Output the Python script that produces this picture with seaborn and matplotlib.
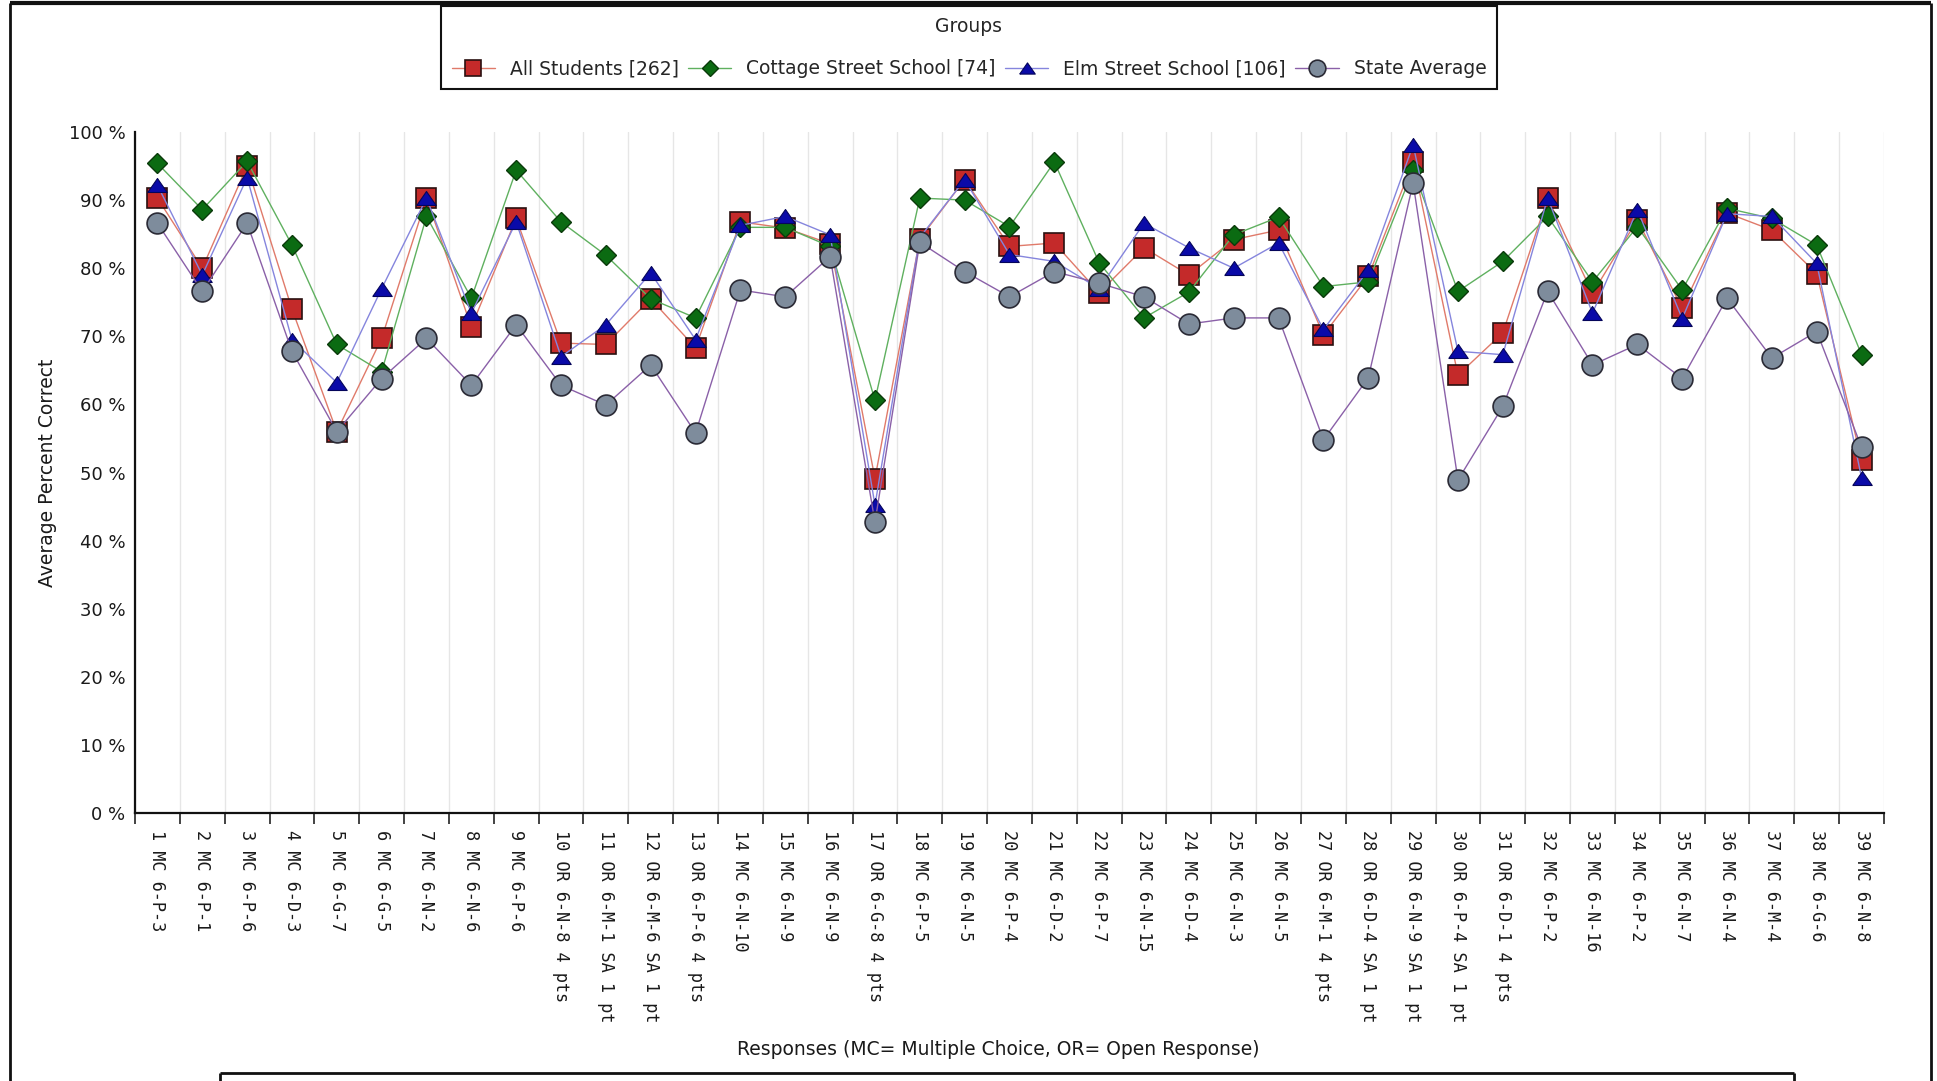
import matplotlib
matplotlib.use("Agg")
import matplotlib.pyplot as plt
from matplotlib.lines import Line2D
import numpy as np
import pandas as pd
import seaborn as sns

# ---- data -------------------------------------------------------------
items = [
    "1 MC 6-P-3", "2 MC 6-P-1", "3 MC 6-P-6", "4 MC 6-D-3", "5 MC 6-G-7",
    "6 MC 6-G-5", "7 MC 6-N-2", "8 MC 6-N-6", "9 MC 6-P-6", "10 OR 6-N-8 4 pts",
    "11 OR 6-M-1 SA 1 pt", "12 OR 6-M-6 SA 1 pt", "13 OR 6-P-6 4 pts",
    "14 MC 6-N-10", "15 MC 6-N-9", "16 MC 6-N-9", "17 OR 6-G-8 4 pts",
    "18 MC 6-P-5", "19 MC 6-N-5", "20 MC 6-P-4", "21 MC 6-D-2", "22 MC 6-P-7",
    "23 MC 6-N-15", "24 MC 6-D-4", "25 MC 6-N-3", "26 MC 6-N-5",
    "27 OR 6-M-1 4 pts", "28 OR 6-D-4 SA 1 pt", "29 OR 6-N-9 SA 1 pt",
    "30 OR 6-P-4 SA 1 pt", "31 OR 6-D-1 4 pts", "32 MC 6-P-2", "33 MC 6-N-16",
    "34 MC 6-P-2", "35 MC 6-N-7", "36 MC 6-N-4", "37 MC 6-M-4", "38 MC 6-G-6",
    "39 MC 6-N-8",
]

all_students = [90.3, 80, 95, 74, 56, 69.7, 90.3, 71.4, 87.3, 69, 68.8, 75.5,
                68.3, 86.8, 85.9, 83.6, 49.1, 84.3, 93, 83.2, 83.7, 76.4, 83,
                79, 84.2, 85.6, 70.2, 78.8, 95.6, 64.3, 70.5, 90.3, 76.3, 87.1,
                74.1, 88.1, 85.6, 79.2, 51.8]
cottage = [95.4, 88.6, 95.7, 83.4, 68.8, 64.8, 87.6, 75.6, 94.4, 86.8, 81.9,
           75.5, 72.7, 86, 86, 83.2, 60.6, 90.3, 90, 86.1, 95.6, 80.8, 72.7,
           76.5, 84.9, 87.5, 77.3, 78, 94.4, 76.6, 81, 87.6, 78, 86.1, 76.8,
           88.8, 87.3, 83.4, 67.3]
elm = [92.2, 79, 93.3, 69.5, 63.2, 77, 90.3, 73.4, 86.8, 67, 71.7, 79.3, 69.5,
       86.3, 87.6, 84.9, 45.2, 84.5, 93, 82, 81, 77, 86.6, 83, 80, 83.7, 71,
       79.7, 98.1, 67.8, 67.3, 90.3, 73.4, 88.6, 72.6, 88, 87.6, 80.7, 49.2]
state = [86.6, 76.6, 86.6, 67.8, 56, 63.8, 69.7, 62.8, 71.7, 62.8, 59.9, 65.8,
         55.8, 76.8, 75.8, 81.7, 42.7, 83.8, 79.5, 75.8, 79.5, 77.8, 75.8,
         71.8, 72.7, 72.7, 54.8, 63.9, 92.5, 48.9, 59.7, 76.6, 65.8, 68.8,
         63.8, 75.6, 66.8, 70.7, 53.7]

group_names = ["All Students [262]", "Cottage Street School [74]",
               "Elm Street School [106]", "State Average"]
y_ticks = [0, 10, 20, 30, 40, 50, 60, 70, 80, 90, 100]

# ---- styling per series ----------------------------------------------
flat_tri = [(-1.0, -0.72), (1.0, -0.72), (0.0, 0.72), (-1.0, -0.72)]
styles = {
    "All Students [262]": dict(color="#e07a6a", marker="s", markersize=15,
                               markerfacecolor="#c42a2a", markeredgecolor="#2a1010",
                               markeredgewidth=1.2),
    "Cottage Street School [74]": dict(color="#5fb05f", marker="D", markersize=10.5,
                                       markerfacecolor="#0b6b12", markeredgecolor="#0a3a0a",
                                       markeredgewidth=1.0),
    "Elm Street School [106]": dict(color="#8585dd", marker=flat_tri, markersize=14,
                                    markerfacecolor="#0a0aa8", markeredgecolor="#05055a",
                                    markeredgewidth=0.8),
    "State Average": dict(color="#8a60a8", marker="o", markersize=15,
                          markerfacecolor="#7e8c9c", markeredgecolor="#2a2a35",
                          markeredgewidth=1.2),
}

df = pd.DataFrame({
    "pos": np.tile(np.arange(len(items)), 4),
    "value": all_students + cottage + elm + state,
    "group": np.repeat(group_names, len(items)),
})

# ---- figure -----------------------------------------------------------
sns.set_theme(style="white")
plt.rcParams["font.family"] = ["DejaVu Sans"]
W, H = 1937, 1081
fig = plt.figure(figsize=(W / 100, H / 100), dpi=100)
fig.patch.set_facecolor("white")
ax = fig.add_axes([135 / W, 1 - 813 / H, (1884 - 135) / W, (813 - 132) / H])

for name in group_names:
    sub = df[df["group"] == name]
    sns.lineplot(data=sub, x="pos", y="value", ax=ax, label=name,
                 linewidth=1.0, clip_on=False, zorder=3, **styles[name])

# axes limits and ticks
n = len(items)
ax.set_xlim(-0.5, n - 0.5)
ax.set_ylim(0, 100)
ax.set_yticks(y_ticks)
ax.set_yticklabels([f"{v} %" for v in y_ticks])
ax.tick_params(axis="y", length=0, pad=7, labelsize=13, labelcolor="#1a1a1a")

ax.set_xticks(np.arange(n))
ax.set_xticklabels(items, rotation=270, va="top", ha="center",
                   family="DejaVu Sans Mono")
ax.tick_params(axis="x", which="major", length=0, pad=12, labelsize=12.2,
               labelcolor="#1a1a1a")
ax.set_xticks(np.arange(-0.5, n), minor=True)
ax.tick_params(axis="x", which="minor", length=8, width=1.2, color="#222222",
               direction="out", bottom=True)

# vertical separators between response items
ax.grid(False)
ax.xaxis.grid(True, which="minor", color="#e6e6e6", linewidth=1.0)
ax.set_axisbelow(True)

for side in ("top", "right"):
    ax.spines[side].set_visible(False)
for side in ("left", "bottom"):
    ax.spines[side].set_color("#111111")
    ax.spines[side].set_linewidth(1.6)

ax.set_ylabel("Average Percent Correct", fontsize=13.5, color="#1a1a1a")
ax.yaxis.set_label_coords((57 - 135) / (1884 - 135), 0.5)
ax.set_xlabel("Responses (MC= Multiple Choice, OR= Open Response)",
              fontsize=13.5, color="#1a1a1a")
ax.xaxis.set_label_coords((998 - 135) / (1884 - 135), (813 - 1040) / (813 - 132))
ax.xaxis.label.set_va("top")

# legend across the top
handles, labels = ax.get_legend_handles_labels()
ax.legend_.remove()
leg = fig.legend(handles, labels, title="Groups", ncol=4,
                 loc="upper center", bbox_to_anchor=(969 / W, 1 - 6 / H),
                 fontsize=13.5, title_fontsize=13.5, frameon=True,
                 fancybox=False, shadow=False, borderpad=0.58,
                 borderaxespad=0, markerscale=0.8,
                 labelspacing=1.25, handlelength=2.3, handletextpad=0.8,
                 columnspacing=0.5)
frame = leg.get_frame()
frame.set_edgecolor("#111111")
frame.set_linewidth(1.5)
frame.set_facecolor("white")
frame.set_alpha(1)

# outer frame of the report panel and the box beneath it
def fline(xs, ys, lw=2.0):
    fig.add_artist(Line2D([x / W for x in xs], [1 - y / H for y in ys],
                          color="#111111", linewidth=lw, solid_capstyle="butt"))

fline([10, 10], [3, H + 5])
fline([10, 1931], [3, 3], lw=3)
fline([1931, 1931], [3, H + 5])
fline([220, 1794], [1073, 1073])
fline([220, 220], [1073, H + 5])
fline([1794, 1794], [1073, H + 5])

fig.savefig("out.png", dpi=100, facecolor="white")
